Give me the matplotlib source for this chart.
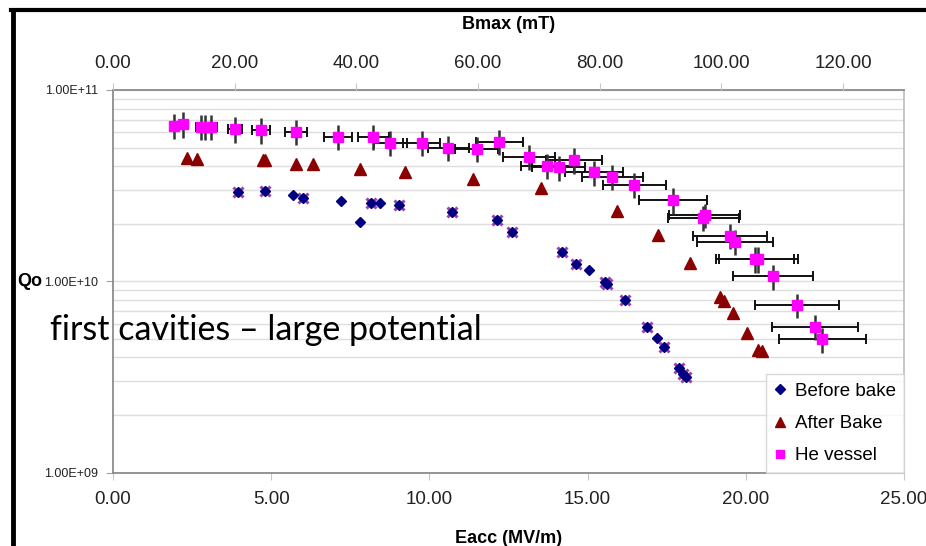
import matplotlib.pyplot as plt
from matplotlib.lines import Line2D
from matplotlib.ticker import FixedLocator, NullFormatter, FormatStrFormatter

# --- He vessel measurement (with error bars) ---
he_eacc = [1.92, 2.22, 2.79, 2.90, 3.11, 3.85, 4.67, 5.78, 7.11, 8.23, 8.77, 9.76,
           10.60, 11.49, 12.21, 13.15, 13.73, 14.08, 14.57, 15.19, 15.78, 16.48,
           17.70, 18.70, 18.66, 19.50, 19.66, 20.29, 20.40, 20.85, 21.62, 22.18, 22.42]
he_q = [6.49e10, 6.64e10, 6.43e10, 6.43e10, 6.43e10, 6.25e10, 6.18e10, 6.03e10,
        5.70e10, 5.70e10, 5.31e10, 5.31e10, 4.98e10, 4.93e10, 5.37e10, 4.48e10,
        4.01e10, 3.94e10, 4.31e10, 3.71e10, 3.52e10, 3.19e10, 2.66e10, 2.22e10,
        2.15e10, 1.73e10, 1.61e10, 1.31e10, 1.31e10, 1.06e10, 7.50e9, 5.80e9, 4.98e9]
he_eacc_err = [0.12, 0.13, 0.17, 0.17, 0.19, 0.23, 0.28, 0.35, 0.43, 0.49, 0.53, 0.59,
               0.64, 0.69, 0.74, 0.81, 0.83, 0.85, 0.90, 0.92, 0.96, 1.00, 1.08, 1.13,
               1.13, 1.18, 1.19, 1.23, 1.24, 1.27, 1.33, 1.35, 1.38]
he_q_err = [9.7e9, 1.0e10, 9.6e9, 9.6e9, 9.6e9, 9.4e9, 9.3e9, 9.0e9, 8.6e9, 8.6e9,
            8.0e9, 8.0e9, 7.5e9, 7.4e9, 8.1e9, 6.7e9, 6.0e9, 5.9e9, 6.5e9, 5.6e9,
            5.3e9, 4.8e9, 4.0e9, 3.3e9, 3.2e9, 2.6e9, 2.4e9, 2.0e9, 2.0e9, 1.6e9,
            1.1e9, 8.7e8, 7.5e8]

# --- after bake ---
after_eacc = [2.35, 2.67, 4.74, 4.80, 5.78, 6.33, 7.80, 9.24, 11.39, 13.52, 15.94,
              17.22, 18.22, 19.18, 19.31, 19.58, 20.03, 20.40, 20.50]
after_q = [4.40e10, 4.36e10, 4.31e10, 4.33e10, 4.10e10, 4.10e10, 3.87e10, 3.73e10,
           3.44e10, 3.06e10, 2.34e10, 1.75e10, 1.24e10, 8.26e9, 7.87e9, 6.81e9,
           5.35e9, 4.40e9, 4.32e9]

# --- before bake ---
before_eacc = [3.96, 4.82, 5.70, 6.01, 7.20, 7.80, 8.15, 8.43, 9.05, 10.70, 12.15,
               12.60, 14.19, 14.63, 15.04, 15.55, 15.60, 16.18, 16.89, 17.18, 17.40,
               17.89, 18.00, 18.10]
before_q = [2.92e10, 2.96e10, 2.81e10, 2.73e10, 2.63e10, 2.05e10, 2.56e10, 2.58e10,
            2.50e10, 2.31e10, 2.09e10, 1.81e10, 1.42e10, 1.23e10, 1.14e10, 9.89e9,
            9.69e9, 8.00e9, 5.80e9, 5.08e9, 4.56e9, 3.52e9, 3.28e9, 3.15e9]
# repeat measurement drawn with star markers under the diamonds
repeat_eacc = [3.96, 4.82, 6.01, 8.15, 9.05, 10.70, 12.15, 12.60, 14.19, 14.63,
               15.55, 15.60, 16.18, 16.89, 17.40, 17.89, 18.00, 18.10]
repeat_q = [2.92e10, 2.96e10, 2.73e10, 2.56e10, 2.50e10, 2.31e10, 2.09e10, 1.81e10,
            1.42e10, 1.23e10, 9.89e9, 9.69e9, 8.00e9, 5.80e9, 4.56e9, 3.52e9,
            3.28e9, 3.15e9]

eacc_ticks = [0, 5, 10, 15, 20, 25]
bmax_ticks = [0, 20, 40, 60, 80, 100, 120]
q_ticks = [1e9, 1e10, 1e11]
q_tick_labels = ['1.00E+09', '1.00E+10', '1.00E+11']

plt.rcParams['font.family'] = ['Liberation Sans', 'DejaVu Sans']

fig = plt.figure(figsize=(9.26, 5.46), dpi=100)
fig.patch.set_facecolor('white')
ax = fig.add_axes([0.122, 0.1343, 0.8543, 0.7009])

ax.set_yscale('log')
ax.set_xlim(0, 25)
ax.set_ylim(1e9, 1e11)

# horizontal grid at every decade subdivision
minor = [m * 10 ** e for e in (9, 10) for m in range(2, 10)]
ax.yaxis.set_minor_locator(FixedLocator(minor))
ax.yaxis.set_minor_formatter(NullFormatter())
ax.yaxis.set_major_locator(FixedLocator(q_ticks))
ax.set_yticklabels(q_tick_labels)
ax.grid(True, which='both', axis='y', color='#dedede', lw=1)
ax.set_axisbelow(True)
ax.tick_params(axis='y', which='minor', length=0)
ax.tick_params(axis='y', which='major', length=5, color='#a0a0a0', labelsize=9,
               labelcolor='#222222', pad=6)

ax.set_xticks(eacc_ticks)
ax.xaxis.set_major_formatter(FormatStrFormatter('%.2f'))
ax.tick_params(axis='x', length=5, color='#c8c8c8', labelsize=13.5,
               labelcolor='#222222', pad=8)

for name, sp in ax.spines.items():
    sp.set_color('#8c8c8c')
    sp.set_linewidth(1.3)
ax.spines['right'].set_color('#c0c0c0')

ax.set_xlabel('Eacc (MV/m)', fontsize=13, fontweight='bold', labelpad=16)
ax.set_ylabel('Qo', fontsize=13, fontweight='bold', rotation=0,
              ha='center', va='center')
ax.yaxis.set_label_coords(-0.105, 0.5)

# top axis: peak magnetic field
ax2 = ax.twiny()
ax2.set_xlim(0, 130)
ax2.set_xticks(bmax_ticks)
ax2.xaxis.set_major_formatter(FormatStrFormatter('%.2f'))
ax2.tick_params(axis='x', length=5, color='#c8c8c8', labelsize=13.5,
                labelcolor='#222222', pad=8)
ax2.set_xlabel('Bmax (mT)', fontsize=13, fontweight='bold', labelpad=19)
for sp in ax2.spines.values():
    sp.set_visible(False)

# data
ax.plot(repeat_eacc, repeat_q, ls='none', marker='x', ms=7, mew=2.2,
        color='#a040b0', zorder=3)
ax.plot(before_eacc, before_q, ls='none', marker='D', ms=5.5,
        color='#000080', zorder=4)
ax.plot(after_eacc, after_q, ls='none', marker='^', ms=8,
        color='#8b0000', zorder=4)
ax.errorbar(he_eacc, he_q, xerr=he_eacc_err, fmt='none', ecolor='#111111',
            elinewidth=1.4, capsize=3.5, capthick=1.4, zorder=5)
ax.errorbar(he_eacc, he_q, yerr=he_q_err, fmt='none', ecolor='#333333',
            elinewidth=1.8, capsize=0, zorder=5)
ax.plot(he_eacc, he_q, ls='none', marker='s', ms=7.5, color='#ff00ff', zorder=6)

handles = [
    Line2D([], [], ls='none', marker='D', ms=5, color='#000080'),
    Line2D([], [], ls='none', marker='^', ms=6.5, color='#8b0000'),
    Line2D([], [], ls='none', marker='s', ms=6, color='#ff00ff'),
]
leg = ax.legend(handles, ['Before bake', 'After Bake', 'He vessel'],
                loc='lower right', bbox_to_anchor=(1.0, 0.0), borderaxespad=0,
                fontsize=13.5, frameon=True, fancybox=False, handlelength=0.6,
                handletextpad=0.5, labelspacing=0.8, borderpad=0.45)
leg.get_frame().set_edgecolor('#d0d0d0')
leg.get_frame().set_linewidth(1)
leg.set_zorder(10)

fig.text(0.054, 1 - 340 / 546, 'first cavities \u2013 large potential',
         fontsize=24.5, family=['Lato', 'DejaVu Sans'], va='baseline', ha='left',
         color='black', zorder=20)

# outer slide frame on the left and top
fig.add_artist(Line2D([12.5 / 926, 12.5 / 926], [0, 1 - 10 / 546],
                      transform=fig.transFigure, color='black', lw=3.5))
fig.add_artist(Line2D([11 / 926, 1], [1 - 10 / 546, 1 - 10 / 546],
                      transform=fig.transFigure, color='black', lw=3))

fig.savefig('out.png', dpi=100)
